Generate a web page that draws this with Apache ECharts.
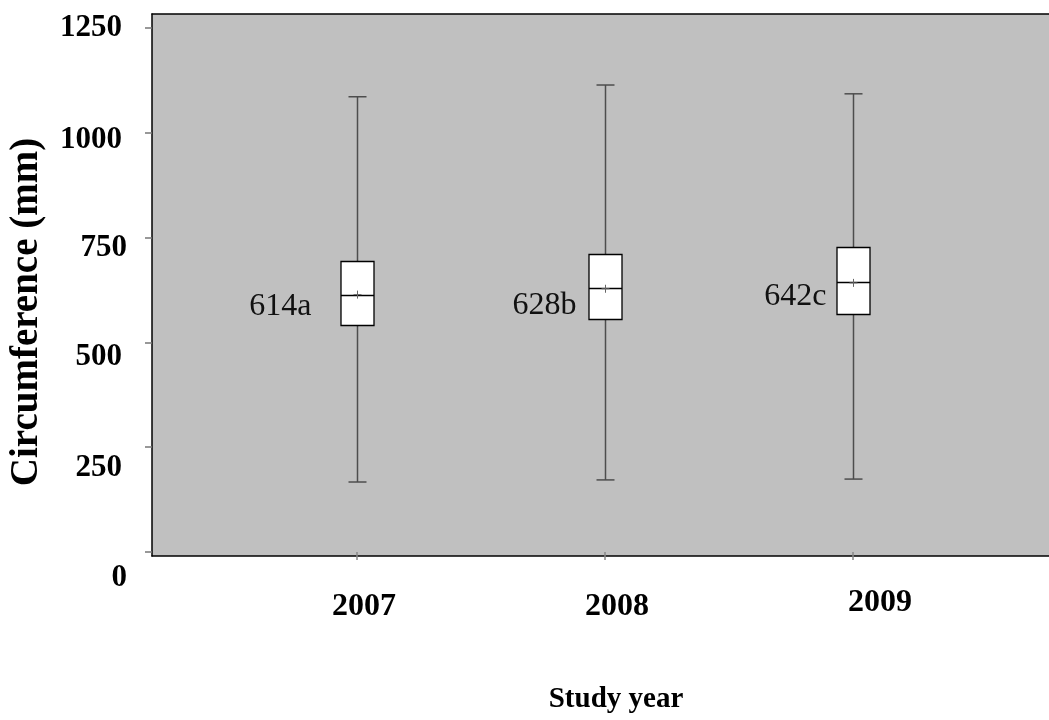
<!DOCTYPE html>
<html><head><meta charset="utf-8">
<script src="https://cdn.jsdelivr.net/npm/echarts@6/dist/echarts.min.js"></script>
<style>html,body{margin:0;padding:0;background:#fff}#c{width:1049px;height:720px}</style>
</head><body><div id="c"></div>
<script>
// ---- data ----
const years = ['2007', '2008', '2009'];
const whiskerLow = [167, 172, 174];
const q1 = [541, 555, 568];
const median = [613, 629, 643];
const q3 = [695, 712, 727];
const whiskerHigh = [1086, 1114, 1093];
const means = [614, 628, 642];
const meanLetters = ['a', 'b', 'c'];
const yTickValues = [0, 250, 500, 750, 1000, 1250];
const yTickLabels = ['0', '250', '500', '750', '1000', '1250'];

// ---- layout / style (not data) ----
const Y_MIN = -9.5, Y_MAX = 1283.4;
const yLabelShift = [26, 21, 14.5, 10.5, 7.5, 0];
const yLabelPadRight = [0, 5, 5, 0, 5, 5];
const xLabelDx = [7, 12, 27];
const xLabelPadTop = [5, 4.5, 0.5];
const meanLabelDx = [-46, -29, -27];
const meanLabelDy = [12, 17, 14];
const SERIF = '"Liberation Serif", "Times New Roman", serif';

const yRich = {};
yTickValues.forEach((v, k) => {
  yRich['t' + k] = {
    fontSize: 31, fontWeight: 'bold', fontFamily: SERIF, color: '#000',
    padding: [2 * yLabelShift[k], yLabelPadRight[k], 0, 0]
  };
});
const xRich = {};
years.forEach((y, k) => {
  xRich['x' + k] = {
    fontSize: 32, fontWeight: 'bold', fontFamily: SERIF, color: '#000',
    padding: [xLabelPadTop[k], 0, 0, 2 * xLabelDx[k]]
  };
});

const boxData = years.map((y, i) => [i, whiskerLow[i], q1[i], median[i], q3[i], whiskerHigh[i], means[i]]);

function renderBox(params, api) {
  const i = api.value(0);
  const px = v => api.coord([i, v]);
  const xc = Math.round(px(api.value(3))[0]) + 0.5;
  const yLo = px(api.value(1))[1];
  const yQ1 = Math.round(px(api.value(2))[1]) + 0.5;
  const yMed = Math.round(px(api.value(3))[1]) + 0.5;
  const yQ3 = Math.round(px(api.value(4))[1]) + 0.5;
  const yHi = px(api.value(5))[1];
  const yMean = px(api.value(6))[1];
  const bw = 33, cw = 18, mc = 4;
  const wStyle = { stroke: '#4d4d4d', lineWidth: 1.5 };
  const k = params.dataIndex;
  return {
    type: 'group',
    children: [
      { type: 'line', shape: { x1: xc, y1: yQ1, x2: xc, y2: yLo }, style: wStyle },
      { type: 'line', shape: { x1: xc, y1: yQ3, x2: xc, y2: yHi }, style: wStyle },
      { type: 'line', shape: { x1: xc - cw / 2, y1: yLo, x2: xc + cw / 2, y2: yLo }, style: wStyle },
      { type: 'line', shape: { x1: xc - cw / 2, y1: yHi, x2: xc + cw / 2, y2: yHi }, style: wStyle },
      { type: 'rect', shape: { x: xc - bw / 2, y: yQ3, width: bw, height: yQ1 - yQ3 },
        style: { fill: '#fff', stroke: '#000', lineWidth: 1.3 } },
      { type: 'line', shape: { x1: xc - bw / 2, y1: yMed, x2: xc + bw / 2, y2: yMed },
        style: { stroke: '#000', lineWidth: 1.5 } },
      { type: 'line', shape: { x1: xc - mc, y1: yMean, x2: xc + mc, y2: yMean },
        style: { stroke: '#666', lineWidth: 1 } },
      { type: 'line', shape: { x1: xc, y1: yMean - mc, x2: xc, y2: yMean + mc },
        style: { stroke: '#666', lineWidth: 1 } },
      { type: 'text',
        style: { text: means[k] + meanLetters[k], x: xc + meanLabelDx[k], y: yMean + meanLabelDy[k],
          align: 'right', verticalAlign: 'middle', fill: '#111',
          font: '32px ' + SERIF } }
    ]
  };
}

const frameLine = { show: true, onZero: false, lineStyle: { color: '#000', width: 1.5 } };
const chart = echarts.init(document.getElementById('c'), null, { renderer: 'canvas' });
chart.setOption({
  animation: false,
  backgroundColor: '#fff',
  grid: [
    { left: 152, top: 14, width: 960, bottom: 164, show: true, outerBoundsMode: 'none',
      backgroundColor: '#c0c0c0', borderWidth: 0 },
    { left: 233, top: 14, right: 72, bottom: 164, outerBoundsMode: 'none' }
  ],
  xAxis: [
    { gridIndex: 0, type: 'value', min: 0, max: 1, position: 'bottom',
      axisLine: frameLine, axisTick: { show: false }, axisLabel: { show: false }, splitLine: { show: false } },
    { gridIndex: 1, type: 'category', data: years,
      axisLine: { show: false },
      axisTick: { show: true, alignWithLabel: true, length: 8, lineStyle: { color: '#888', width: 1.5 } },
      axisLabel: { margin: 30, formatter: (v, idx) => '{x' + idx + '|' + v + '}', rich: xRich },
      splitLine: { show: false },
      name: 'Study year', nameLocation: 'middle', nameGap: 129,
      nameTextStyle: { fontSize: 29, fontWeight: 'bold', fontFamily: SERIF, color: '#000', padding: [0, 0, 0, 22] }
    },
    { gridIndex: 0, type: 'value', min: 0, max: 1, position: 'top',
      axisLine: frameLine, axisTick: { show: false }, axisLabel: { show: false }, splitLine: { show: false } }
  ],
  yAxis: [
    { gridIndex: 0, type: 'value', min: Y_MIN, max: Y_MAX,
      axisLine: frameLine,
      axisTick: { show: true, length: 7, customValues: yTickValues, lineStyle: { color: '#777', width: 1.5 } },
      axisLabel: { margin: 25, customValues: yTickValues,
        formatter: v => { const k = yTickValues.indexOf(v); return '{t' + k + '|' + yTickLabels[k] + '}'; },
        rich: yRich },
      splitLine: { show: false },
      name: 'Circumference (mm)', nameLocation: 'middle', nameGap: 106,
      nameTextStyle: { fontSize: 39, fontWeight: 'bold', fontFamily: SERIF, color: '#000', padding: [0, 54, 0, 0] }
    },
    { gridIndex: 1, type: 'value', min: Y_MIN, max: Y_MAX, show: false }
  ],
  series: [{
    type: 'custom', xAxisIndex: 1, yAxisIndex: 1, clip: false,
    renderItem: renderBox,
    encode: { x: 0, y: [1, 2, 3, 4, 5, 6] },
    data: boxData
  }]
});
</script></body></html>
